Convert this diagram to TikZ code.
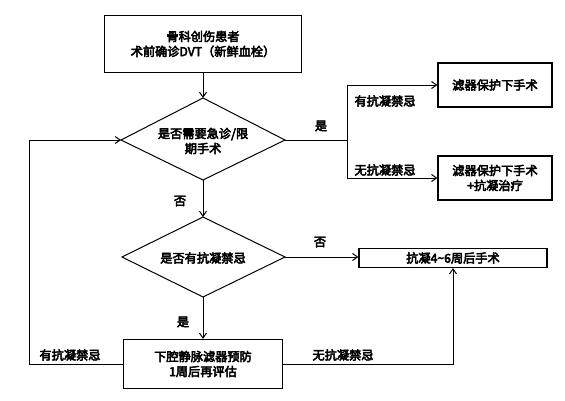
\documentclass[tikz,border=0pt]{standalone}
\usepackage{fontspec}
\setmainfont{Liberation Sans}
\newfontfamily\cjk{Noto Sans CJK SC}[FakeBold=4]
\usetikzlibrary{shapes.geometric,arrows.meta}
\begin{document}
\begin{tikzpicture}[x=1pt,y=-1pt,
  every node/.style={font=\cjk\fontsize{12.2}{15}\selectfont},
  box/.style={draw,line width=1.2pt,align=center,inner sep=0pt},
  conn/.style={line width=1pt},
  arr/.style={conn,-{Straight Barb[length=5pt,width=7pt]}},
  lab/.style={inner sep=1pt}]
\useasboundingbox (0,0) rectangle (565,400);
\node[box,minimum width=197pt,minimum height=57pt] (top) at (203,44) {骨科创伤患者\\术前确诊DVT（新鲜血栓）};
\path[draw,line width=1pt] (121,140) coordinate (d1w) -- (203,98) coordinate (d1n) -- (285,140) coordinate (d1e) -- (203,180) coordinate (d1s) -- cycle;
\node[align=center] (d1t) at (203,141) {是否需要急诊/限\\期手术};
\path[draw,line width=1pt] (122,257) coordinate (d2w) -- (203,217) coordinate (d2n) -- (285,257) coordinate (d2e) -- (203,297) coordinate (d2s) -- cycle;
\node (d2t) at (203,258) {是否有抗凝禁忌};
\node[box,minimum width=114pt,minimum height=44pt] (ba) at (495,85) {滤器保护下手术};
\node[box,minimum width=114pt,minimum height=44pt] (bb) at (495,178) {滤器保护下手术\\+抗凝治疗};
\node[box,minimum width=188pt,minimum height=19pt] (bc) at (453,258) {抗凝4\textasciitilde 6周后手术};
\node[box,minimum width=159pt,minimum height=49pt] (bd) at (203,364) {下腔静脉滤器预防\\1周后再评估};
\coordinate (sp) at (347,140);
\coordinate (spa) at (347,85);
\coordinate (spb) at (347,178);
\coordinate (ll) at (29,364);
\coordinate (lt) at (29,140);
\coordinate (rr) at (453,364);
\draw[arr] (top.south) -- (d1n);
\draw[conn] (d1e) -- (sp);
\draw[arr] (sp) -- (spa) -- (ba.west);
\draw[arr] (sp) -- (spb) -- (bb.west);
\draw[arr] (d1s) -- (d2n);
\draw[arr] (d2e) -- (bc.west |- d2e);
\draw[arr] (d2s) -- (bd.north);
\draw[arr] (bd.west) -- (ll) -- (lt) -- (d1w);
\draw[arr] (bd.east) -- (rr) -- (bc.south -| rr);
\node[lab] at (321,126) {是};
\node[lab] at (385,101) {有抗凝禁忌};
\node[lab] at (385,170) {无抗凝禁忌};
\node[lab] at (180,201) {否};
\node[lab] at (320,242) {否};
\node[lab] at (183,322) {是};
\node[lab] at (70,355) {有抗凝禁忌};
\node[lab] at (343,355) {无抗凝禁忌};
\end{tikzpicture}
\end{document}
